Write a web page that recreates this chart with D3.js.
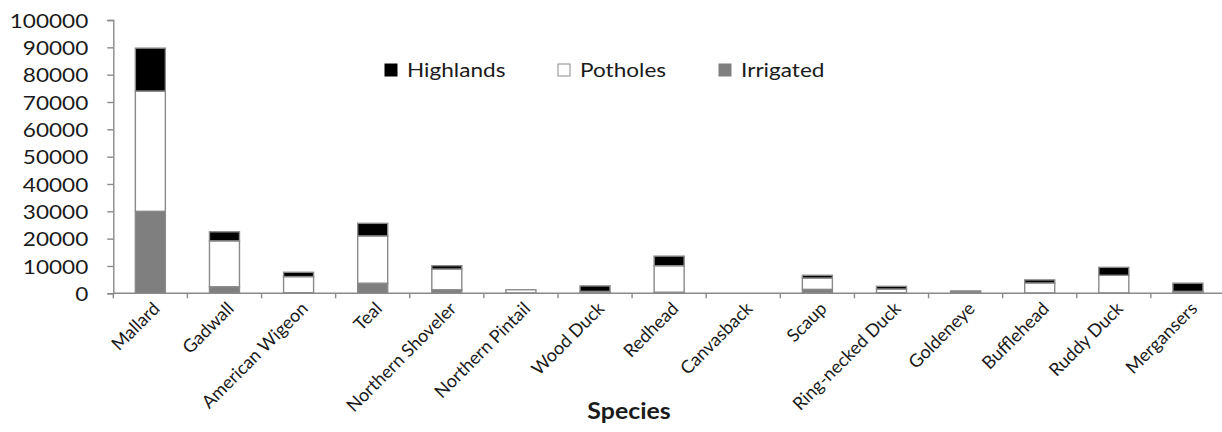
<!DOCTYPE html>
<html>
<head>
<meta charset="utf-8">
<script src="https://cdn.jsdelivr.net/npm/d3@7"></script>
<style>
  html, body { margin: 0; padding: 0; background: #fff; }
  svg { display: block; }
  text { font-family: Lato, "Open Sans", "Liberation Sans", sans-serif; fill: #1a1a1a; }
</style>
</head>
<body>
<svg id="chart" width="1222" height="432"></svg>
<script>
// ---- data ----
const categories = ["Mallard","Gadwall","American Wigeon","Teal","Northern Shoveler","Northern Pintail","Wood Duck","Redhead","Canvasback","Scaup","Ring-necked Duck","Goldeneye","Bufflehead","Ruddy Duck","Mergansers"];
const irrigated = [30000, 2400, 200, 3700, 1300, 100, 400, 400, 0, 1450, 200, 700, 100, 100, 300];
const potholes  = [44000, 16800, 5900, 17300, 7600, 1200, 300, 9700, 0, 4150, 1370, 150, 3700, 6500, 400];
const highlands = [15700, 3300, 1600, 4600, 1200, 0, 2000, 3500, 0, 1000, 980, 0, 1100, 2900, 3000];
const seriesKeys = ["Irrigated", "Potholes", "Highlands"];
const yTicks = [0,10000,20000,30000,40000,50000,60000,70000,80000,90000,100000];
const xTitle = "Species";
const legendOrder = ["Highlands", "Potholes", "Irrigated"];

const fills = { Irrigated: "#7f7f7f", Potholes: "#ffffff", Highlands: "#000000" };
const stretch = 1.13;

const rows = categories.map((c, i) => ({ cat: c, Irrigated: irrigated[i], Potholes: potholes[i], Highlands: highlands[i] }));

const svg = d3.select("#chart");
const axisLeftX = 113.3, axisRightX = 1225;
const yBottom = 293.3, yTop = 20;

const x = d3.scaleBand().domain(categories).range([axisLeftX, axisRightX]).padding(0);
const y = d3.scaleLinear().domain([0, 100000]).range([yBottom, yTop]);
const barW = 30;

const stacked = d3.stack().keys(seriesKeys)(rows);

// bars
const g = svg.append("g");
stacked.forEach(layer => {
  g.append("g").selectAll("rect").data(layer).join("rect")
    .attr("x", d => x(d.data.cat) + (x.bandwidth() - barW) / 2)
    .attr("width", barW)
    .attr("y", d => y(d[1]))
    .attr("height", d => Math.max(0, y(d[0]) - y(d[1])))
    .attr("fill", fills[layer.key])
    .attr("stroke", d => (d[1] - d[0]) > 0 ? "#8a8a8a" : "none")
    .attr("stroke-width", 1.4);
});

// y axis
const yAxis = svg.append("g").attr("transform", `translate(${axisLeftX},0)`)
  .call(d3.axisLeft(y).tickValues(yTicks).tickSize(6).tickFormat(d => String(d)));
yAxis.select(".domain").attr("stroke", "#8a8a8a").attr("stroke-width", 1.4);
yAxis.selectAll(".tick line").attr("stroke", "#8a8a8a").attr("stroke-width", 1.4);
yAxis.selectAll(".tick text")
  .attr("x", null).attr("dy", "0.36em")
  .attr("transform", `translate(-25,0) scale(${stretch},1)`)
  .attr("text-anchor", "end")
  .style("font-size", "20px").style("font-family", "Lato, 'Open Sans', sans-serif").attr("fill", "#1a1a1a");

// x axis (ticks at category boundaries)
const xg = svg.append("g");
xg.append("line").attr("x1", axisLeftX).attr("x2", axisRightX).attr("y1", yBottom).attr("y2", yBottom)
  .attr("stroke", "#8a8a8a").attr("stroke-width", 1.4);
const boundaries = categories.map(c => x(c)).concat([x(categories[categories.length - 1]) + x.bandwidth()]);
xg.selectAll("line.tk").data(boundaries).join("line").attr("class", "tk")
  .attr("x1", d => d).attr("x2", d => d).attr("y1", yBottom).attr("y2", yBottom + 5)
  .attr("stroke", "#8a8a8a").attr("stroke-width", 1.4);
xg.selectAll("text.cat").data(categories).join("text").attr("class", "cat")
  .attr("transform", d => `translate(${x(d) + x.bandwidth() / 2 + 6},${yBottom + 12}) rotate(-45)`)
  .attr("text-anchor", "end")
  .attr("dy", "0.35em")
  .style("font-size", "18px")
  .text(d => d);

// x title
svg.append("text")
  .attr("transform", `translate(629,419) scale(${stretch},1)`)
  .attr("text-anchor", "middle")
  .style("font-size", "22px").style("font-weight", "bold")
  .text(xTitle);

// legend
const legendPos = { Highlands: 385, Potholes: 558, Irrigated: 719 };
const lg = svg.append("g");
legendOrder.forEach(k => {
  const lx = legendPos[k];
  lg.append("rect").attr("x", lx).attr("y", 64).attr("width", 12).attr("height", 12)
    .attr("fill", fills[k]).attr("stroke", k === "Potholes" ? "#8a8a8a" : fills[k]).attr("stroke-width", 1);
  lg.append("text").attr("transform", `translate(${lx + 22},77) scale(${stretch},1)`)
    .style("font-size", "20px").text(k);
});
</script>
</body>
</html>
